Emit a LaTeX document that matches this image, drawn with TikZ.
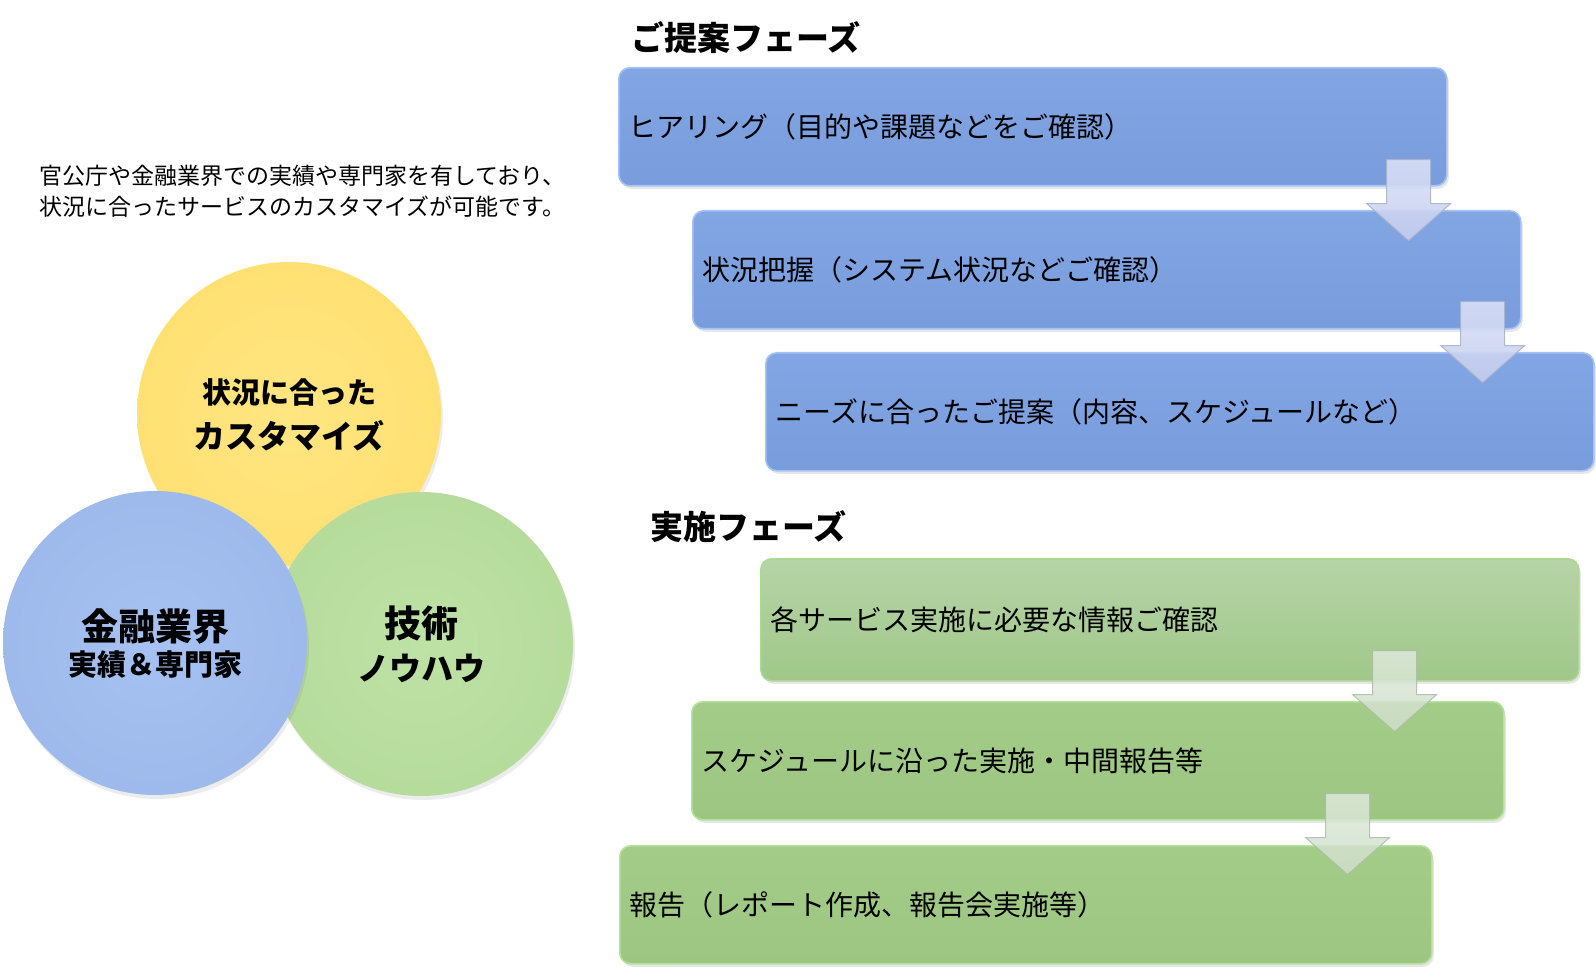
\documentclass[tikz,border=0pt]{standalone}
\usepackage{fontspec}
\setmainfont{Noto Sans CJK JP}
\usetikzlibrary{shadows,calc}
\definecolor{bboxmain}{RGB}{121,156,220}
\definecolor{bboxtop}{RGB}{130,165,228}
\definecolor{bboxedge}{RGB}{165,194,244}
\definecolor{gboxmain}{RGB}{158,198,131}
\definecolor{gboxtop}{RGB}{164,204,137}
\definecolor{gboxedge}{RGB}{180,226,152}
\definecolor{gboxAtop}{RGB}{182,212,168}
\definecolor{gboxAbot}{RGB}{160,200,137}
\definecolor{barrowtop}{RGB}{218,224,246}
\definecolor{barrowbot}{RGB}{196,205,238}
\definecolor{barrowedge}{RGB}{170,178,205}
\definecolor{garrowtop}{RGB}{222,233,219}
\definecolor{garrowbot}{RGB}{206,222,201}
\definecolor{garrowedge}{RGB}{170,188,168}
\definecolor{ymain}{RGB}{255,223,112}
\definecolor{ylite}{RGB}{255,230,130}
\definecolor{ymid}{RGB}{240,203,92}
\definecolor{ydark}{RGB}{175,145,55}
\definecolor{bmain}{RGB}{156,184,234}
\definecolor{blite}{RGB}{166,194,242}
\definecolor{bmid}{RGB}{134,162,214}
\definecolor{bdark}{RGB}{80,104,155}
\definecolor{gmain}{RGB}{180,218,154}
\definecolor{glite}{RGB}{190,226,165}
\definecolor{gmid}{RGB}{156,196,131}
\definecolor{gdark}{RGB}{98,138,80}
\pgfdeclareradialshading{ballY}{\pgfpoint{0bp}{0bp}}{color(0bp)=(ylite); color(30bp)=(ymain); color(42bp)=(ymain); color(48bp)=(ymid); color(50bp)=(ydark)}
\pgfdeclareradialshading{ballB}{\pgfpoint{0bp}{0bp}}{color(0bp)=(blite); color(30bp)=(bmain); color(42bp)=(bmain); color(48bp)=(bmid); color(50bp)=(bdark)}
\pgfdeclareradialshading{ballG}{\pgfpoint{0bp}{0bp}}{color(0bp)=(glite); color(30bp)=(gmain); color(42bp)=(gmain); color(48bp)=(gmid); color(50bp)=(gdark)}
\tikzset{
  boxtext/.style={font=\fontsize{28pt}{32pt}\selectfont, align=left, inner xsep=10pt, inner ysep=0pt, anchor=north west, minimum height=118pt, rounded corners=11pt, line width=1.6pt},
  bstep/.style={boxtext, text width=808pt, draw=bboxedge, top color=bboxtop, bottom color=bboxmain, drop shadow={opacity=0.2, shadow xshift=2pt, shadow yshift=-3pt}},
  gstep/.style={boxtext, text width=792pt, draw=gboxedge, top color=gboxtop, bottom color=gboxmain, drop shadow={opacity=0.2, shadow xshift=2pt, shadow yshift=-3pt}},
  gstepA/.style={boxtext, text width=798pt, minimum height=122pt, draw=gboxedge!60!gboxAbot, top color=gboxAtop, bottom color=gboxAbot, drop shadow={opacity=0.2, shadow xshift=2pt, shadow yshift=-3pt}},
  barrow/.style={draw=barrowedge, line width=1pt, top color=barrowtop, bottom color=barrowbot, opacity=0.9},
  garrow/.style={draw=garrowedge, line width=1pt, top color=garrowtop, bottom color=garrowbot, opacity=0.85},
  pics/darrow/.style={code={\path[#1] (-22,0) -- (22,0) -- (22,44) -- (42,44) -- (0,81) -- (-42,44) -- (-22,44) -- cycle;}},
  ball/.style={circle, minimum size=304pt, inner sep=0pt, align=center, drop shadow={opacity=0.15, shadow xshift=2pt, shadow yshift=-4pt}},
  title/.style={anchor=west, inner sep=0pt, font=\fontsize{33pt}{38pt}\selectfont\bfseries},
}
\begin{document}
\begin{tikzpicture}[x=1pt,y=-1pt]
\useasboundingbox (0,0) rectangle (1596,968);
% left paragraph
\node[anchor=west, align=left, inner sep=0pt, font=\fontsize{23pt}{31pt}\selectfont] (para) at (39,191) {官公庁や金融業界での実績や専門家を有しており、\\状況に合ったサービスのカスタマイズが可能です。};
% circles
\node[ball, shading=ballY] (cy) at (289,414) {};
\node[ball, shading=ballG] (cg) at (421,644) {};
\node[ball, shading=ballB] (cb) at (155,643) {};
\node[font=\fontsize{29pt}{34pt}\selectfont\bfseries] (cyt1) at (289,392) {状況に合った};
\node[font=\fontsize{32pt}{36pt}\selectfont\bfseries] (cyt2) at (289,436) {カスタマイズ};
\node[font=\fontsize{37pt}{42pt}\selectfont\bfseries] (cbt1) at (155,626) {金融業界};
\node[font=\fontsize{29pt}{34pt}\selectfont\bfseries] (cbt2) at (155,665) {実績＆専門家};
\node[font=\fontsize{37pt}{42pt}\selectfont\bfseries] (cgt1) at (421,623) {技術};
\node[font=\fontsize{32pt}{40pt}\selectfont\bfseries] (cgt2) at (421,668) {ノウハウ};
% proposal phase
\node[title] (t1) at (631,38) {ご提案フェーズ};
\node[bstep] (b1) at (618,67) {ヒアリング（目的や課題などをご確認）};
\node[bstep] (b2) at (692,210) {状況把握（システム状況などご確認）};
\node[bstep] (b3) at (765,352) {ニーズに合ったご提案（内容、スケジュールなど）};
\coordinate (a1) at ($(b1.south east)+(-39,-27)$);
\coordinate (a2) at ($(b2.south east)+(-39,-28)$);
\pic at (a1) {darrow=barrow};
\pic at (a2) {darrow=barrow};
% implementation phase
\node[title] (t2) at (650,527) {実施フェーズ};
\node[gstepA] (g1) at (760,558) {各サービス実施に必要な情報ご確認};
\node[gstep] (g2) at (691,701) {スケジュールに沿った実施・中間報告等};
\node[gstep] (g3) at (619,845) {報告（レポート作成、報告会実施等）};
\coordinate (a3) at ($(g1.south east)+(-185,-31)$);
\coordinate (a4) at ($(g2.south east)+(-157,-27)$);
\pic at (a3) {darrow=garrow};
\pic at (a4) {darrow=garrow};
\end{tikzpicture}
\end{document}
